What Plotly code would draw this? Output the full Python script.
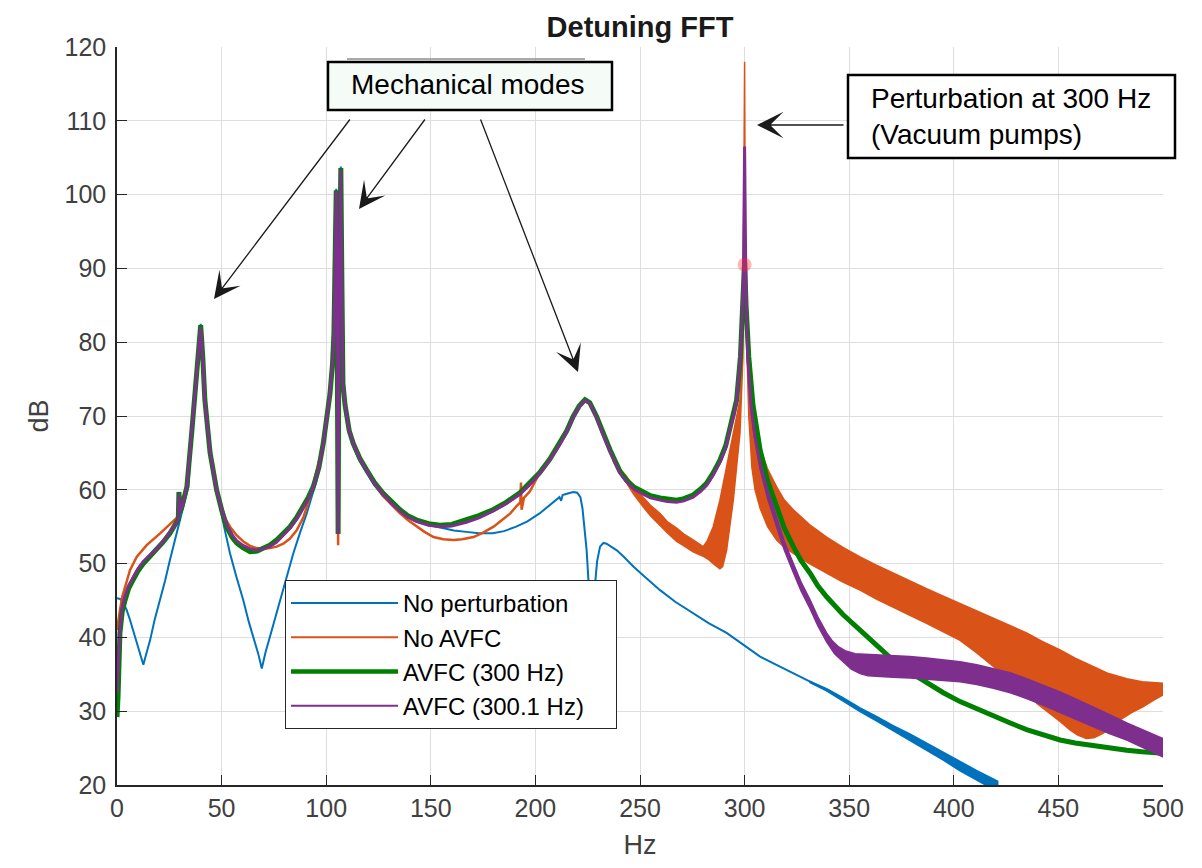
import plotly.graph_objects as go

FONT = "Liberation Sans, Arial, Helvetica, sans-serif"

# ---------------- data ----------------
x_ticks = [0, 50, 100, 150, 200, 250, 300, 350, 400, 450, 500]
y_ticks = [20, 30, 40, 50, 60, 70, 80, 90, 100, 110, 120]

series_names = ["No perturbation", "No AVFC", "AVFC (300 Hz)", "AVFC (300.1 Hz)"]
series_colors = ["#0072BD", "#D95319", "#008000", "#7E2F8E"]

# No perturbation (Hz, dB)
blue_pts = [(0, 45.3), (1.5, 45.2), (3, 44.7), (4.5, 43.8), (6.2, 42.4), (8, 40.6), (9.4, 39.2),
            (11, 37.6), (12.6, 36.3), (14, 37.8), (15.8, 39.6), (18, 42.4), (20.6, 45), (23, 47.7),
            (25.3, 50.5), (28, 53.5), (30.1, 55.9), (32, 58), (34.1, 60.4), (35.7, 67.5), (37.8, 74.5),
            (39, 79.5), (40, 82.5), (41, 78), (42, 72.2), (44.5, 65), (47.6, 60), (49.2, 57.7),
            (51.5, 54.6), (54, 51.4), (57, 48.3), (60.4, 45), (63, 42.1), (65.2, 40.1), (67.5, 37.8),
            (69.2, 35.8), (71, 38), (73.1, 40.1), (75.5, 42.5), (77.9, 45), (81, 48.2), (84.3, 51.4),
            (87.5, 54.2), (90.7, 56.8), (93, 59), (95.5, 61.3), (97.5, 64.3), (98.6, 66.3), (100.5, 70),
            (101.8, 73), (103, 77), (103.7, 81.2), (104.3, 92), (104.8, 100.8), (105.2, 85), (105.7, 60),
            (106.1, 85), (106.6, 100), (107, 103.8), (107.5, 88), (108, 74), (109.8, 69.5), (112.9, 65.9),
            (116, 63.9), (119.3, 62.3), (123, 60.6), (127, 59.3), (131, 58.2), (135.3, 57.2), (139, 56.4),
            (143.3, 55.8), (147, 55.4), (151.3, 55.1), (156, 54.8), (161, 54.5), (167, 54.3), (173, 54.1),
            (179.7, 54.1), (185, 54.4), (190.8, 55), (196, 55.7), (202, 56.8), (207, 57.9), (211.5, 59),
            (212.3, 58.5), (213, 59.3), (215.5, 59.5), (218, 59.7), (220, 59.6), (221.5, 59), (222.5, 57.5),
            (223.5, 54.5), (224.5, 51.8), (225.3, 48), (226, 44), (226.8, 40), (227.5, 44), (228.5, 47.4),
            (229.5, 50.3), (230.9, 52.3), (232.5, 52.8), (234, 52.7), (236.5, 52.3), (238.9, 51.8),
            (242, 51), (246.8, 49.6), (252, 48.3), (259.6, 46.4), (267, 44.8), (275.5, 43.2), (283, 41.9),
            (291.4, 40.6), (301, 38.7), (307.4, 37.4), (315, 36.3), (323.3, 35.1), (331, 34), (339.2, 32.9),
            (347, 31.6), (355.2, 30.2), (363, 29), (371, 27.7), (379, 26.5), (387, 25.2), (395, 23.9),
            (403, 22.5), (411, 21.3), (418.9, 20.2), (421, 19.8)]
blue_tail_upper = [(331, 34.08), (339.2, 33.05), (347, 31.82), (355.2, 30.45), (363, 29.3), (371, 28.05),
                   (379, 26.92), (387, 25.68), (395, 24.43), (403, 23.1), (411, 21.95), (421, 20.5)]
blue_tail_lower = [(331, 33.92), (339.2, 32.75), (347, 31.38), (355.2, 29.95), (363, 28.7), (371, 27.35),
                   (379, 26.08), (387, 24.72), (395, 23.37), (403, 21.9), (411, 20.65), (421, 19.1)]

# No AVFC (Hz, dB): single line up to 237 Hz, then an oscillating band
orange_pts = [(0, 41), (0.7, 42.5), (1.4, 43.7), (2.5, 45.5), (3.8, 46.9), (6.2, 49.1), (9.4, 50.9),
              (14.2, 52.5), (20.6, 54.1), (26.9, 55.7), (29.3, 56.4), (30.5, 57.5), (33.4, 60.4),
              (35.7, 67.7), (37.8, 74.5), (39, 79), (40, 82), (41, 78), (42, 72.2), (44.5, 65.2),
              (47.6, 60.3), (49.2, 58.4), (52, 56), (54, 55), (57, 53.9), (60.4, 53), (63.6, 52.4),
              (66.8, 52.1), (70, 52), (73.1, 52.1), (76.3, 52.3), (79.5, 52.7), (82.7, 53.4), (85.9, 54.5),
              (89, 56.2), (92.3, 59), (94.5, 61.5), (96.5, 63.5), (98.6, 66.3), (100.5, 70), (101.8, 73),
              (103, 77), (103.7, 81.2), (104.3, 92), (104.8, 100), (105.2, 85), (105.7, 52.5), (106.1, 85),
              (106.6, 100), (107, 103.4), (107.5, 88), (108, 74.4), (109.8, 69.9), (112.9, 66.3),
              (116, 64.3), (119.3, 62.6), (123, 60.8), (127, 59.2), (131, 58), (135.3, 56.8), (139, 55.9),
              (143.3, 55), (147, 54.3), (151.3, 53.6), (156, 53.3), (160.8, 53.2), (165, 53.3),
              (170.4, 53.6), (175, 54.2), (180, 55), (184, 55.9), (188, 56.8), (191, 57.8), (192.8, 58.3),
              (193.1, 61), (193.4, 57.3), (194.5, 58.9), (197.4, 59.8), (202, 62.3), (207, 64.2),
              (211.8, 66.3), (215, 68), (218, 69.9), (221, 71.4), (223.7, 72.2), (226, 71.8), (229.3, 69.9),
              (232, 67.8), (235.7, 65.4), (237, 64.5)]
orange_band_upper = [(237, 64.5), (240, 63), (243.6, 61.8), (247, 60.4), (251.5, 59), (255, 57.9),
                     (259.6, 56.8), (263, 55.7), (267.5, 54.8), (271, 54), (275.4, 53.2), (280.2, 52.3),
                     (282, 53), (285, 55), (288.2, 58.6), (291.4, 63.1), (294.6, 67.7), (297.8, 72.2),
                     (299.2, 80), (299.8, 100), (300, 118), (300.3, 95), (301, 86), (302, 78), (303.5, 72),
                     (305, 68.5), (307.4, 65.8), (311, 62.8), (315.3, 60.4), (319, 58.6), (323.3, 57.3),
                     (331, 55.3), (339.2, 53.6), (347, 52.2), (355.2, 50.9), (363, 49.8), (371, 48.7),
                     (379, 47.6), (387, 46.6), (395, 45.6), (403, 44.6), (411, 43.6), (418.9, 42.6),
                     (427, 41.6), (434.8, 40.6), (442, 39.5), (450.8, 38.3), (458, 37.2), (466.7, 36),
                     (474, 35.1), (482.7, 34.4), (490, 34), (500, 33.8)]
orange_band_lower = [(237, 64), (240, 62.4), (243.6, 60.9), (247, 59.4), (251.5, 57.7), (255, 56.5),
                     (259.6, 55.2), (263, 54.2), (267.5, 53), (271, 52.4), (275.4, 51.6), (280.2, 51),
                     (283, 50.5), (285, 50), (288.2, 49.3), (289.5, 49.6), (291.4, 51.8), (294.6, 58.6),
                     (297.8, 67.7), (299.2, 78), (299.8, 95), (300, 118), (300.3, 92), (301, 80), (302, 70),
                     (303.5, 63), (305, 60), (307.4, 57.5), (311, 55), (315.3, 53.2), (319, 52.2),
                     (323.3, 51.4), (331, 50), (339.2, 48.7), (347, 47.5), (355.2, 46.4), (363, 45.2),
                     (371, 44.1), (379, 43), (387, 41.9), (395, 40.8), (403, 39.6), (411, 37.9),
                     (418.9, 36), (427, 34.2), (434.8, 32.4), (440, 31), (445.8, 29.7), (450.8, 28.6),
                     (455.4, 27.5), (459, 26.8), (463.3, 26.3), (467, 26.4), (471.3, 27), (475, 27.8),
                     (479.3, 28.8), (485, 29.8), (490.4, 30.6), (495, 31.4), (500, 32.2)]

# AVFC (300 Hz)
green_pts = [(0, 29.2), (0.5, 32), (1.4, 40.6), (2.5, 43.5), (3.8, 45), (5.5, 46.6), (7.7, 47.8),
             (10, 49), (12.6, 50), (16, 51), (19, 51.8), (22, 52.9), (25.3, 54.1), (28, 55.3), (29.3, 56),
             (29.6, 59.7), (30.2, 57), (31, 57.7), (33.4, 60.4), (35.7, 67.7), (37.8, 74.5), (39, 79),
             (40, 82.3), (41, 78), (42, 72.2), (44.5, 65), (47.6, 60), (50, 57.3), (52.4, 55), (55, 53.6),
             (57.2, 52.8), (60, 52.2), (63.6, 51.6), (67, 51.7), (70, 52.1), (73, 52.5), (76.3, 53.2),
             (79.5, 54), (82.7, 55), (86, 56.3), (89, 57.7), (91.5, 59), (93.8, 60.4), (96.5, 63),
             (98.6, 66.3), (100.5, 70), (101.8, 73), (103, 77), (103.7, 81.2), (104.3, 92), (104.8, 100.6),
             (105.2, 85), (105.7, 54), (106.1, 85), (106.6, 100), (107, 103.6), (107.5, 88), (108, 74.4),
             (109, 71.5), (109.8, 69.9), (111, 68), (112.9, 66.3), (116, 64.3), (119.3, 62.7), (123, 61),
             (127, 59.6), (131, 58.4), (135.3, 57.3), (139, 56.5), (143.3, 55.9), (149, 55.4),
             (154.4, 55.2), (160, 55.3), (167, 55.9), (173, 56.5), (179.7, 57.3), (186, 58.3),
             (192.6, 59.6), (197, 60.8), (202, 62.3), (207, 64.2), (211.8, 66.3), (215, 68), (218, 69.9),
             (221, 71.4), (223.7, 72.2), (226, 71.8), (229.3, 69.9), (232, 67.8), (235.7, 65.4),
             (240.4, 62.5), (243.6, 61.3), (247, 60.4), (251.5, 59.7), (255, 59.2), (259.6, 58.9),
             (263, 58.7), (267.5, 58.6), (271, 58.8), (275.4, 59.3), (279, 60.1), (281.9, 60.9),
             (285, 62.3), (288.2, 64), (291, 66), (293, 68.5), (295, 70.5), (296.2, 72.2), (298, 78),
             (299.3, 85), (300, 91), (300.7, 85), (302, 78), (304, 71.5), (305.5, 68.5), (307.4, 65.4),
             (311, 61.2), (315.3, 57.7), (319, 54.8), (323.3, 52.3), (327, 50.4), (331.3, 48.7), (335, 47),
             (339.2, 45.5), (347, 43.1), (355.2, 41), (363, 38.9), (371, 36.9), (379, 35.3), (387, 33.8),
             (395, 32.5), (403, 31.3), (411, 30.3), (418.9, 29.3), (427, 28.4), (434.8, 27.5), (442, 26.8),
             (450.8, 26.1), (458, 25.7), (466.7, 25.3), (474, 25), (482.7, 24.7), (490, 24.5), (500, 24.3)]

# AVFC (300.1 Hz): line up to 305 Hz, then an oscillating band
purple_pts = [(0, 32.5), (0.5, 35), (1.4, 41), (2.5, 44), (3.8, 45.6), (5.5, 47), (7.7, 48.2), (10, 49.3),
              (12.6, 50.3), (16, 51.2), (19, 52), (22, 53), (25.3, 54.2), (28, 55.3), (29.3, 56),
              (29.6, 59.5), (30.2, 57), (31, 57.7), (33.4, 60.4), (35.7, 67.7), (37.8, 74.5), (39, 79),
              (40, 82), (41, 78), (42, 72.2), (44.5, 65), (47.6, 60), (50, 57.4), (52.4, 55.2), (55, 53.9),
              (57.2, 53.1), (60, 52.5), (63.6, 52), (67, 51.8), (70, 52), (73, 52.3), (76.3, 52.9),
              (79.5, 53.8), (82.7, 54.8), (86, 56.1), (89, 57.5), (91.5, 58.8), (93.8, 60.3), (96.5, 63),
              (98.6, 66.3), (100.5, 70), (101.8, 73), (103, 77), (103.7, 81.2), (104.3, 92), (104.8, 100.4),
              (105.2, 85), (105.7, 54), (106.1, 85), (106.6, 100), (107, 103.4), (107.5, 88), (108, 74.4),
              (109, 71.5), (109.8, 69.9), (111, 68), (112.9, 66.3), (116, 64.3), (119.3, 62.6), (123, 60.9),
              (127, 59.5), (131, 58.2), (135.3, 57.1), (139, 56.3), (143.3, 55.7), (149, 55.2),
              (154.4, 55), (160, 55.1), (167, 55.6), (173, 56.2), (179.7, 57.1), (186, 58.1),
              (192.6, 59.4), (197, 60.6), (202, 62.2), (207, 64.1), (211.8, 66.2), (215, 67.9),
              (218, 69.8), (221, 71.3), (223.7, 72.1), (226, 71.7), (229.3, 69.8), (232, 67.7),
              (235.7, 65.2), (240.4, 62.3), (243.6, 61.1), (247, 60.1), (251.5, 59.4), (255, 58.9),
              (259.6, 58.6), (263, 58.4), (267.5, 58.3), (271, 58.5), (275.4, 59), (279, 59.8),
              (281.9, 60.6), (285, 62), (288.2, 63.7), (291, 65.7), (293, 68.2), (295, 70.3), (296.2, 72),
              (298, 78), (299.4, 88), (300, 106.5), (300.6, 88), (301.5, 78), (303, 71.5), (305, 67)]
purple_band_upper = [(303, 72), (305, 67.5), (307.4, 64), (311, 60), (315.3, 56.3), (319, 53),
                     (323.3, 50), (327, 47.5), (331.3, 45.1), (335, 42.8), (339.2, 40.6), (342, 39.5),
                     (345, 38.7), (348, 38.2), (352.8, 37.8), (360, 37.7), (371, 37.6), (379, 37.4),
                     (387, 37.2), (395, 37), (403, 36.7), (411, 36.3), (418.9, 35.8), (427, 35.2),
                     (434.8, 34.4), (442, 33.6), (450.8, 32.6), (458, 31.7), (466.7, 30.6), (474, 29.6),
                     (482.7, 28.4), (490, 27.5), (500, 26.3)]
purple_band_lower = [(303, 71), (305, 66.5), (307.4, 62.8), (311, 58.8), (315.3, 55), (319, 51.8),
                     (323.3, 48.8), (327, 46.3), (331.3, 43.9), (335, 41.6), (339.2, 39.4), (343, 37.8),
                     (347.5, 36.6), (351, 35.7), (355.2, 35.1), (359, 34.8), (363, 34.7), (371, 34.6),
                     (379, 34.5), (387, 34.4), (395, 34.2), (403, 34), (411, 33.6), (418.9, 33.1),
                     (427, 32.5), (434.8, 31.7), (442, 30.9), (450.8, 29.9), (458, 29), (466.7, 27.9),
                     (474, 27), (482.7, 26.1), (490, 25.1), (500, 23.8)]

datatip_pt = [(300, 90.5)]

# ---------------- helpers ----------------
def xs(pts):
    return [p[0] for p in pts]


def ys(pts):
    return [p[1] for p in pts]


def band(upper, lower):
    """closed polygon: upper edge left->right, lower edge right->left"""
    return xs(upper) + xs(lower)[::-1], ys(upper) + ys(lower)[::-1]


# page geometry: the html body has an 8 px margin, so the figure starts at (8, 8)
OFF = 8
W, H = 1202 - 2 * OFF, 868 - 2 * OFF
# plot-area edges in screen pixels
L, R, T, B = 117, 1163, 47, 785


def px(X):
    return (X - L) / (R - L)


def py(Y):
    return (B - Y) / (B - T)


BLUE, ORANGE, GREEN, PURPLE = series_colors

fig = go.Figure()

# No perturbation
fig.add_trace(go.Scatter(x=xs(blue_pts), y=ys(blue_pts), mode="lines",
                         line=dict(color=BLUE, width=2), showlegend=False, hoverinfo="skip"))
bx, by = band(blue_tail_upper, blue_tail_lower)
fig.add_trace(go.Scatter(x=bx, y=by, mode="lines", fill="toself", fillcolor=BLUE,
                         line=dict(color=BLUE, width=1.5), showlegend=False, hoverinfo="skip"))
# No AVFC
fig.add_trace(go.Scatter(x=xs(orange_pts), y=ys(orange_pts), mode="lines",
                         line=dict(color=ORANGE, width=2.5), showlegend=False, hoverinfo="skip"))
ox, oy = band(orange_band_upper, orange_band_lower)
fig.add_trace(go.Scatter(x=ox, y=oy, mode="lines", fill="toself", fillcolor=ORANGE,
                         line=dict(color=ORANGE, width=1.5), showlegend=False, hoverinfo="skip"))
# AVFC (300 Hz)
fig.add_trace(go.Scatter(x=xs(green_pts), y=ys(green_pts), mode="lines",
                         line=dict(color=GREEN, width=5), showlegend=False, hoverinfo="skip"))
# AVFC (300.1 Hz)
fig.add_trace(go.Scatter(x=xs(purple_pts), y=ys(purple_pts), mode="lines",
                         line=dict(color=PURPLE, width=3), showlegend=False, hoverinfo="skip"))
qx, qy = band(purple_band_upper, purple_band_lower)
fig.add_trace(go.Scatter(x=qx, y=qy, mode="lines", fill="toself", fillcolor=PURPLE,
                         line=dict(color=PURPLE, width=1.5), showlegend=False, hoverinfo="skip"))
# data tip highlight
fig.add_trace(go.Scatter(x=xs(datatip_pt), y=ys(datatip_pt), mode="markers",
                         marker=dict(color="rgba(255,40,40,0.35)", size=14, line=dict(width=0)),
                         showlegend=False, hoverinfo="skip"))

# legend entries (trailing no-break spaces widen the box like the original)
legend_widths = [2, 2, 4.5, 2]
for name, col, w in zip(series_names, series_colors, legend_widths):
    fig.add_trace(go.Scatter(x=[None], y=[None], mode="lines", name=name + "\u00a0" * 4,
                             line=dict(color=col, width=w), legendgroup=name))

# ---------------- annotation boxes ----------------
shapes = [
    dict(type="line", xref="paper", yref="paper", x0=px(347), x1=px(585), y0=py(59), y1=py(59),
         line=dict(color="#8c8c8c", width=1.5), layer="above"),
    dict(type="rect", xref="paper", yref="paper", x0=px(328), x1=px(612), y0=py(110), y1=py(62),
         line=dict(color="black", width=2.5), fillcolor="#f5fbf7", layer="above"),
    dict(type="rect", xref="paper", yref="paper", x0=px(848), x1=px(1175), y0=py(158), y1=py(75),
         line=dict(color="black", width=2.5), fillcolor="white", layer="above"),
]

annotations = [
    dict(text="Mechanical modes", xref="paper", yref="paper", x=px(467), y=py(84),
         xanchor="center", yanchor="middle", showarrow=False,
         font=dict(family=FONT, size=28, color="black")),
    dict(text="Perturbation at 300 Hz<br>(Vacuum pumps)", xref="paper", yref="paper",
         x=px(869), y=py(116), xanchor="left", yanchor="middle", align="left", showarrow=False,
         font=dict(family=FONT, size=28, color="black")),
]

# arrows: (tip_x, tip_y, tail_x, tail_y) in screen pixels
arrows = [(214, 299, 351, 118), (359, 209, 426, 118), (578, 372, 480, 118), (757, 125, 845, 125)]
for tx, ty, sx, sy in arrows:
    annotations.append(dict(text="", xref="paper", yref="paper", x=px(tx), y=py(ty),
                            ax=sx - tx, ay=sy - ty, axref="pixel", ayref="pixel",
                            showarrow=True, arrowhead=3, arrowsize=3.4, arrowwidth=1.3,
                            arrowcolor="#1a1a1a", standoff=0))

fig.update_layout(
    width=W, height=H,
    margin=dict(l=L - OFF, r=(OFF + W) - R, t=T - OFF, b=(OFF + H) - B, autoexpand=False),
    paper_bgcolor="white", plot_bgcolor="white",
    font=dict(family=FONT, color="#262626"),
    title=dict(text="<b>Detuning FFT</b>", x=px(640), xref="paper", y=1 - (27 - OFF) / H,
               yref="container", xanchor="center", yanchor="middle",
               font=dict(family=FONT, size=29, color="#1a1a1a")),
    xaxis=dict(range=[0, 500], tickvals=x_ticks, ticktext=[str(v) for v in x_ticks],
               showgrid=True, gridcolor="#dedede", gridwidth=1, zeroline=False,
               showline=True, linecolor="#262626", linewidth=1.5, mirror=False,
               ticks="inside", ticklen=10, tickwidth=1.3, tickcolor="#262626",
               tickfont=dict(family=FONT, size=25, color="#404040"),
               title=dict(text="Hz", standoff=26, font=dict(family=FONT, size=27, color="#404040"))),
    yaxis=dict(range=[20, 120], tickvals=y_ticks, ticktext=[str(v) for v in y_ticks],
               showgrid=True, gridcolor="#dedede", gridwidth=1, zeroline=False,
               showline=True, linecolor="#262626", linewidth=1.5, mirror=False,
               ticks="inside", ticklen=10, tickwidth=1.3, tickcolor="#262626",
               ticklabelstandoff=4,
               tickfont=dict(family=FONT, size=25, color="#404040"),
               title=dict(text="dB", standoff=8, font=dict(family=FONT, size=27, color="#404040"))),
    legend=dict(x=px(285), y=py(580), xanchor="left", yanchor="top",
                bgcolor="white", bordercolor="#262626", borderwidth=1,
                font=dict(family=FONT, size=24, color="black"),
                itemwidth=107, traceorder="grouped", tracegroupgap=0),
    shapes=shapes,
    annotations=annotations,
)

fig.write_html("out.html")
